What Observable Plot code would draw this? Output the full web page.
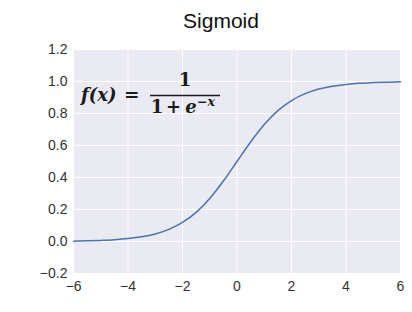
<!DOCTYPE html>
<html><head><meta charset="utf-8">
<script src="https://cdn.jsdelivr.net/npm/d3@7"></script>
<script src="https://cdn.jsdelivr.net/npm/@observablehq/plot@0.6"></script>
<style>
body{margin:0;background:#fff;}
#wrap{position:relative;width:412px;height:312px;overflow:hidden;font-family:"Liberation Sans",Arial,sans-serif;}
#title{position:absolute;left:0;top:9px;width:442px;text-align:center;font-size:21px;color:#111;}
#formula{position:absolute;left:0;top:0;}
#formula text{font-family:"DejaVu Serif",serif;font-weight:bold;fill:#1a1a1a;}
#chart svg text{font-family:"Liberation Sans",Arial,sans-serif;}
</style></head>
<body><div id="wrap">
<div id="title">Sigmoid</div>
<div id="chart"></div>
<svg id="formula" width="412" height="312">
  <text x="81" y="101" font-size="18" font-style="italic">f(x)</text>
  <text x="124" y="101" font-size="18.5">=</text>
  <text x="185" y="86" font-size="18" text-anchor="middle">1</text>
  <line x1="150" x2="220" y1="95.5" y2="95.5" stroke="#1a1a1a" stroke-width="1.3"></line>
  <text x="157" y="113" font-size="18" text-anchor="middle">1</text>
  <text x="173.5" y="113" font-size="18" text-anchor="middle">+</text>
  <text x="191" y="113" font-size="18" text-anchor="middle" font-style="italic">e</text>
  <text x="197" y="106" font-size="12.5" font-style="italic">−x</text>
</svg>
</div>
<script>
const xs = [-6,-5.5,-5,-4.5,-4,-3.5,-3,-2.5,-2,-1.5,-1,-0.5,0,0.5,1,1.5,2,2.5,3,3.5,4,4.5,5,5.5,6];
const ys = [0.002,0.004,0.007,0.011,0.018,0.029,0.047,0.076,0.119,0.182,0.269,0.378,0.5,0.622,0.731,0.818,0.881,0.924,0.953,0.971,0.982,0.989,0.993,0.996,0.998];
const xTicks = [-6,-4,-2,0,2,4,6];
const yTicks = [-0.2,0,0.2,0.4,0.6,0.8,1.0,1.2];
const data = xs.map((x,i)=>({x, y: ys[i]}));
const fmt1 = d3.format(".1f"), fmt0 = d3.format("d");
const chart = Plot.plot({
  width: 412, height: 312,
  marginLeft: 73, marginRight: 12, marginTop: 49, marginBottom: 39,
  style: {background: "transparent", fontSize: "14px", color: "#333"},
  x: {domain: [-6, 6], ticks: xTicks, tickFormat: fmt0, tickSize: 0, tickPadding: 8, label: null},
  y: {domain: [-0.2, 1.2], ticks: yTicks, tickFormat: fmt1, tickSize: 0, tickPadding: 6, label: null},
  marks: [
    Plot.frame({fill: "#EAEAF2", stroke: null}),
    Plot.gridX(xTicks, {stroke: "white", strokeOpacity: 1, strokeWidth: 1}),
    Plot.gridY(yTicks, {stroke: "white", strokeOpacity: 1, strokeWidth: 1}),
    Plot.line(data, {x: "x", y: "y", stroke: "#4C72B0", strokeWidth: 1.5, curve: "monotone-x"})
  ]
});
document.getElementById("chart").appendChild(chart);
</script>
</body></html>
